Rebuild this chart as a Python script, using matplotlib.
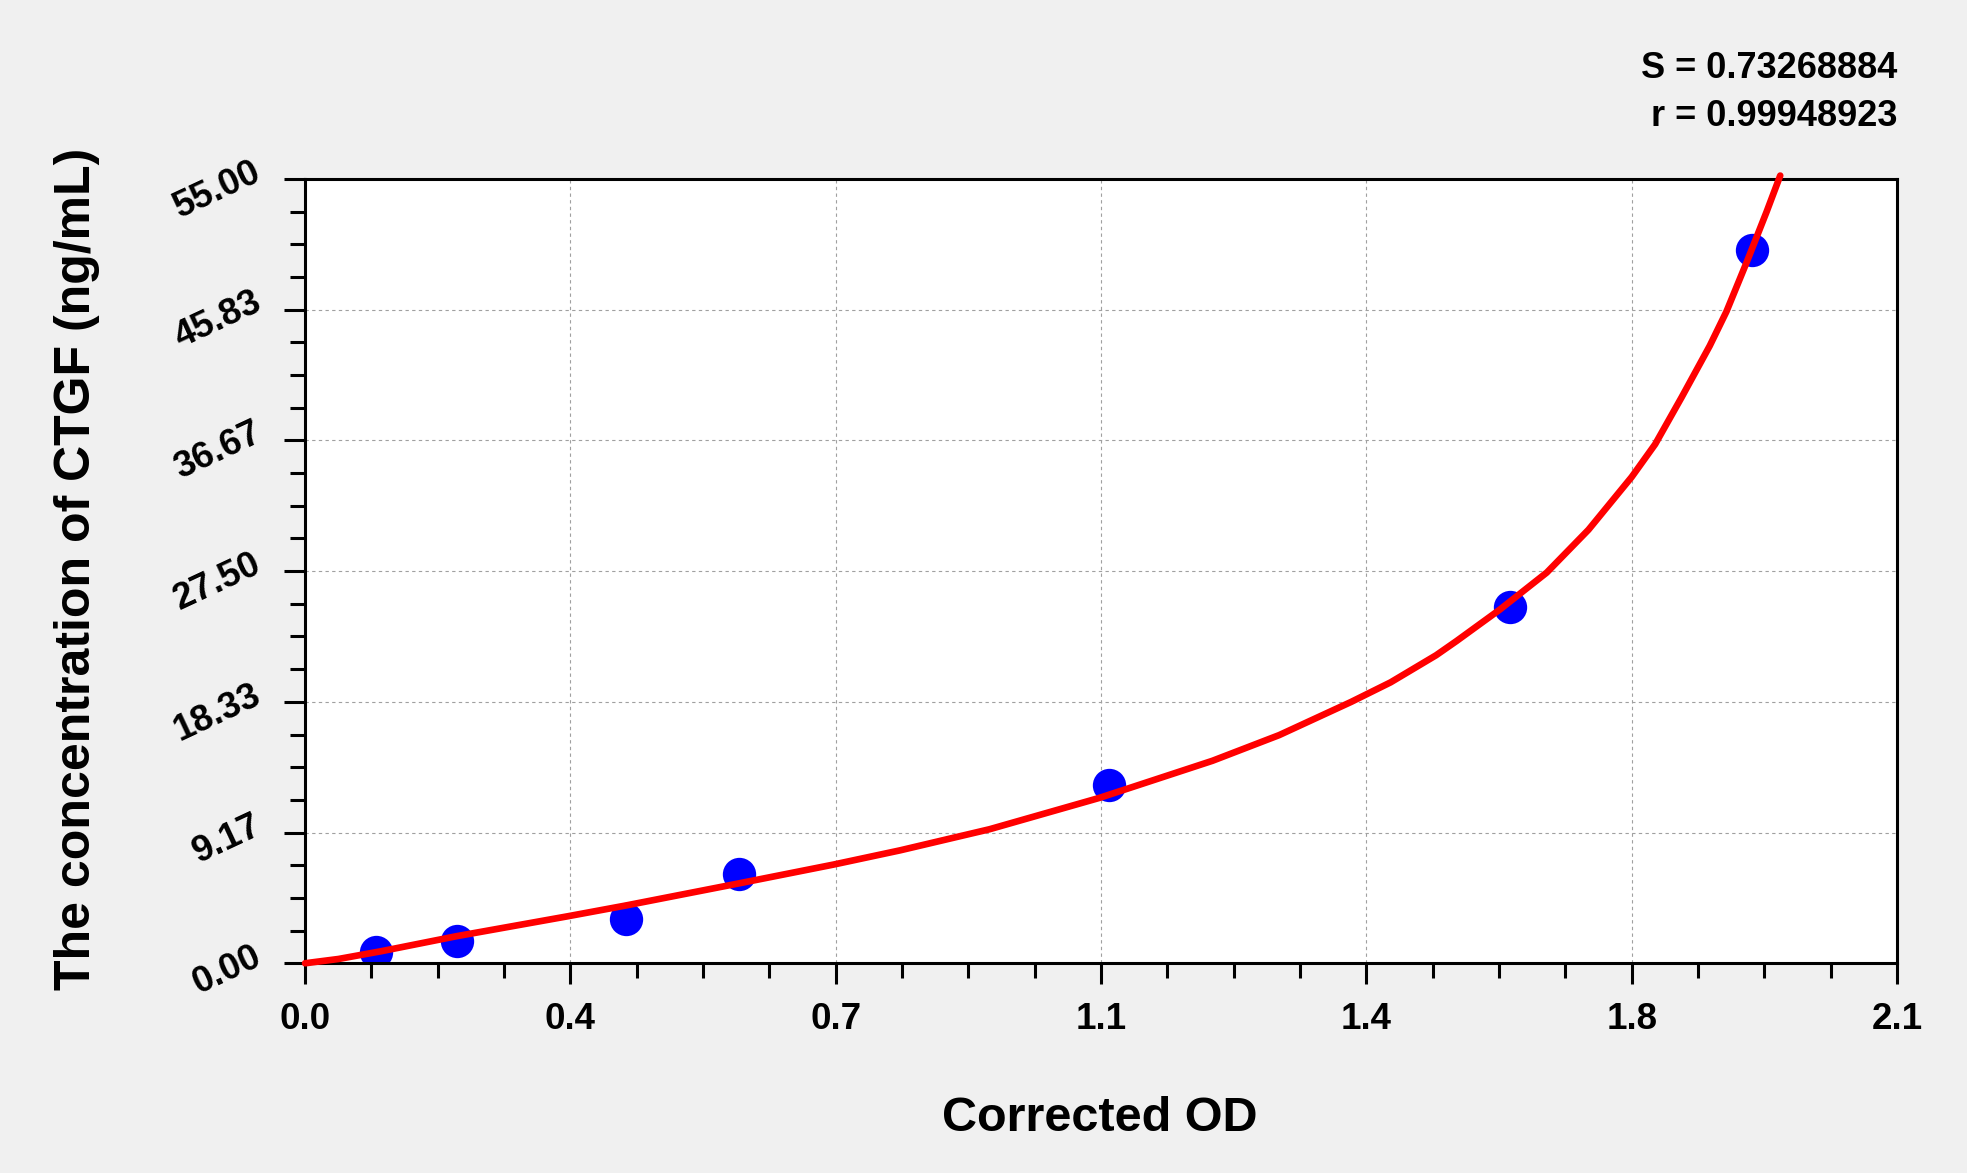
import numpy as np
import matplotlib
matplotlib.use('Agg')
import matplotlib.pyplot as plt
from matplotlib.ticker import FixedLocator, AutoMinorLocator

plt.rcParams['font.family'] = ['Liberation Sans', 'DejaVu Sans']
plt.rcParams['font.weight'] = 'bold'

# standard points (corrected OD vs concentration)
od_values = [0.094, 0.200, 0.423, 0.573, 1.060, 1.590, 1.909]
conc_values = [0.78, 1.56, 3.12, 6.25, 12.5, 25.0, 50.0]

# fitted curve
curve_od = [0.000, 0.044, 0.100, 0.200, 0.347, 0.423, 0.574, 0.697, 0.785,
            0.903, 1.048, 1.197, 1.285, 1.380, 1.432, 1.492, 1.519, 1.576,
            1.638, 1.693, 1.750, 1.781, 1.816, 1.853, 1.875, 1.902, 1.928, 1.946]
curve_conc = [0.00, 0.30, 0.84, 1.90, 3.30, 4.05, 5.62, 6.92, 7.92,
              9.40, 11.60, 14.20, 16.00, 18.33, 19.70, 21.60, 22.60, 24.80,
              27.40, 30.40, 34.10, 36.40, 39.70, 43.30, 45.70, 49.20, 52.70, 55.24]

x_ticklabels = ['0.0', '0.4', '0.7', '1.1', '1.4', '1.8', '2.1']
y_ticklabels = ['0.00', '9.17', '18.33', '27.50', '36.67', '45.83', '55.00']

S_value = 0.73268884
r_value = 0.99948923

fig = plt.figure(figsize=(19.67, 11.73), dpi=100)
fig.patch.set_facecolor('#f0f0f0')
ax = fig.add_axes([0.1551, 0.1788, 0.8093, 0.6686])
ax.set_facecolor('white')

ax.plot(od_values, conc_values, 'o', color='#0000ff', markersize=24,
        markeredgewidth=0, zorder=2)
ax.plot(curve_od, curve_conc, color='#ff0000', linewidth=4.8,
        solid_capstyle='round', solid_joinstyle='round', clip_on=False, zorder=3)

ax.set_xlim(0, 2.1)
ax.set_ylim(0, 55)
ax.xaxis.set_major_locator(FixedLocator(np.linspace(0, 2.1, 7)))
ax.yaxis.set_major_locator(FixedLocator(np.linspace(0, 55, 7)))
ax.xaxis.set_minor_locator(AutoMinorLocator(4))
ax.yaxis.set_minor_locator(AutoMinorLocator(4))
ax.set_xticklabels(x_ticklabels)
ax.set_yticklabels(y_ticklabels)

ax.grid(True, which='major', color='#a0a0a0', linestyle=(0, (3, 3)), linewidth=0.8)
ax.set_axisbelow(True)

for sp in ax.spines.values():
    sp.set_linewidth(2.2)
    sp.set_color('black')

ax.tick_params(which='major', direction='out', length=15, width=2.2, colors='black',
               labelsize=26.5)
ax.tick_params(which='minor', direction='out', length=10.5, width=2.2, colors='black')
ax.tick_params(axis='x', which='major', pad=13)
ax.tick_params(axis='y', which='major', pad=15)
ax.tick_params(which='both', top=False, right=False)

for lbl in ax.get_yticklabels():
    lbl.set_rotation(25)
    lbl.set_rotation_mode('anchor')
    lbl.set_ha('right')
    lbl.set_va('baseline')
    lbl.set_fontweight('bold')
for lbl in ax.get_xticklabels():
    lbl.set_fontweight('bold')

fig.text(0.5592, 0.0355, 'Corrected OD', ha='center', va='baseline',
         fontsize=35, fontweight='bold')
fig.text(90 / 1967, 0.515, 'The concentration of CTGF (ng/mL)', rotation=90,
         rotation_mode='anchor', ha='center', va='baseline',
         fontsize=36, fontweight='bold')

fig.text(0.9644, 0.9335, 'S = %.8f' % S_value, ha='right', va='baseline',
         fontsize=26, fontweight='bold')
fig.text(0.9644, 0.8926, 'r = %.8f' % r_value, ha='right', va='baseline',
         fontsize=26, fontweight='bold')

plt.savefig('out.png', dpi=100, facecolor=fig.get_facecolor())
plt.close(fig)
